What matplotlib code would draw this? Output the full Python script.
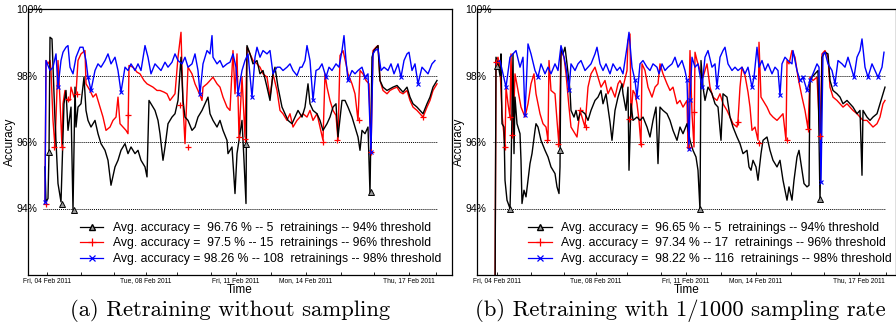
import numpy as np
import matplotlib
matplotlib.use("Agg")
import matplotlib.pyplot as plt
from matplotlib.lines import Line2D

plt.rcParams['font.family'] = ['Liberation Sans', 'DejaVu Sans']

# ---- panel (a): retraining without sampling (x = sample index) ----
t_black_a = [0, 1, 3, 4, 5, 7, 10, 13, 16, 19, 21, 23, 26, 28, 30, 31, 33, 36, 39, 41,
             43, 46, 50, 53, 56, 60, 63, 66, 70, 73, 76, 80, 83, 86, 90, 93, 96, 100, 102, 104,
             106, 110, 113, 115, 118, 120, 123, 127, 130, 133, 136, 138, 140, 143, 147, 150, 153, 157, 160, 163,
             165, 168, 172, 175, 178, 182, 183, 187, 190, 192, 195, 197, 199, 201, 202, 205, 208, 212, 215, 218,
             222, 225, 228, 230, 233, 237, 240, 243, 247, 250, 253, 257, 260, 263, 265, 268, 272, 275, 278, 282,
             285, 288, 291, 293, 297, 300, 303, 307, 310, 313, 315, 317, 320, 323, 325, 327, 329, 333, 335, 338,
             342, 345, 348, 352, 355, 358, 362, 365, 368, 372, 375, 378, 382, 385, 388, 392]
v_black_a = [95.25, 94.2, 94.3, 95.7, 99.15, 99.1, 96.65, 94.75, 94.2, 97.15,
             97.55, 96.35, 97.05, 93.95, 97.65, 96.45, 97.05, 97.15, 97.95, 96.95,
             96.65, 96.45, 96.65, 96.25, 95.95, 95.75, 95.45, 94.7, 95.25, 95.45,
             95.75, 95.95, 95.65, 95.85, 95.65, 95.75, 95.45, 95.25, 94.95, 97.25,
             97.15, 96.95, 96.65, 96.25, 95.45, 95.85, 96.55, 96.75, 96.85, 97.25,
             98.55, 97.25, 96.75, 96.65, 96.35, 96.45, 96.75, 96.95, 97.15, 97.35,
             96.85, 96.65, 96.45, 96.65, 96.35, 96.05, 95.65, 95.85, 94.45, 95.65,
             96.25, 96.65, 95.45, 94.15, 98.9, 98.65, 98.35, 98.45, 98.05, 98.15,
             97.65, 97.25, 98.05, 98.25, 97.65, 97.05, 96.85, 96.65, 96.55, 96.75,
             96.95, 96.75, 97.05, 97.75, 97.15, 96.95, 96.85, 96.65, 96.35, 96.55,
             96.75, 97.05, 97.15, 96.15, 97.25, 97.25, 97.05, 96.75, 96.45, 96.15,
             95.75, 96.35, 96.25, 96.45, 94.45, 98.55, 98.75, 98.9, 97.85, 97.65,
             97.55, 97.6, 97.65, 97.7, 97.6, 97.5, 97.65, 97.35, 97.15, 97.05,
             96.95, 96.85, 97.15, 97.35, 97.65, 97.85]

t_red_a = [0, 1, 3, 5, 6, 8, 10, 12, 13, 15, 17, 18, 20, 22, 25, 26, 29, 31, 33, 36,
           38, 40, 41, 45, 48, 51, 55, 58, 61, 65, 68, 71, 73, 75, 78, 81, 83, 84, 88, 92,
           95, 99, 102, 105, 108, 112, 115, 119, 122, 125, 130, 133, 136, 138, 140, 143, 147, 150, 153, 157,
           158, 162, 165, 168, 172, 175, 178, 182, 185, 188, 190, 192, 194, 197, 200, 202, 205, 208, 212, 215,
           218, 222, 225, 228, 232, 235, 238, 242, 245, 248, 252, 255, 258, 262, 265, 268, 272, 275, 278, 280,
           282, 285, 288, 291, 293, 295, 298, 301, 303, 307, 310, 313, 315, 318, 321, 324, 326, 328, 331, 333,
           335, 338, 342, 345, 348, 352, 355, 358, 362, 365, 368, 372, 375, 378, 382, 385, 388, 392]
v_red_a = [94.2, 98.45, 98.35, 98.45, 98.15, 96.65, 95.85, 97.55, 98.45, 97.25,
           95.85, 97.15, 97.55, 97.25, 97.25, 97.65, 97.35, 97.45, 98.45, 98.65,
           98.7, 98.75, 97.75, 97.55, 97.35, 97.45, 97.05, 96.75, 96.35, 96.45,
           96.65, 96.75, 97.35, 96.55, 96.45, 96.35, 96.25, 98.3, 98.25, 98.1,
           98.05, 97.85, 97.75, 97.7, 97.65, 97.55, 97.55, 97.5, 97.45, 97.25,
           97.45, 98.55, 99.3, 97.15, 95.95, 98.25, 98.05, 97.75, 97.55, 97.25,
           97.65, 97.75, 97.85, 97.95, 97.75, 97.65, 97.35, 97.05, 96.95, 98.75,
           97.45, 98.65, 96.15, 97.95, 96.15, 98.85, 98.65, 98.45, 98.35, 98.25,
           98.05, 97.95, 97.35, 98.05, 97.55, 96.95, 96.85, 96.65, 96.85, 96.45,
           96.65, 96.75, 96.85, 96.75, 96.95, 96.65, 96.85, 96.45, 96.05, 98.05,
           97.65, 97.25, 96.95, 96.8, 96.05, 98.6, 98.75, 98.35, 98.05, 97.75,
           97.45, 96.65, 98.15, 98.05, 97.85, 97.75, 95.7, 98.75, 98.85, 98.9,
           97.85, 97.55, 97.45, 97.55, 97.6, 97.65, 97.5, 97.45, 97.55, 97.25,
           97.05, 96.95, 96.85, 96.75, 97.05, 97.25, 97.55, 97.75]

t_blue_a = [0, 1, 5, 8, 11, 13, 16, 18, 21, 23, 25, 28, 31, 35, 38, 41, 43, 46, 50, 53,
            56, 60, 63, 66, 70, 73, 76, 80, 83, 86, 90, 93, 96, 100, 103, 106, 110, 113, 116, 120,
            123, 127, 130, 133, 137, 140, 143, 147, 150, 153, 155, 158, 162, 165, 167, 168, 172, 175, 178, 182,
            185, 188, 191, 193, 197, 200, 203, 207, 210, 212, 215, 218, 222, 225, 228, 232, 235, 238, 242, 245,
            248, 252, 255, 257, 260, 262, 265, 268, 271, 274, 277, 281, 284, 287, 291, 294, 297, 299, 301, 303,
            307, 310, 313, 317, 320, 323, 326, 328, 330, 333, 336, 339, 343, 346, 349, 353, 356, 359, 362, 364,
            367, 370, 373, 377, 380, 383, 387, 390]
v_blue_a = [94.2, 98.45, 98.15, 98.25, 98.65, 97.65, 98.45, 98.7, 98.85, 98.9, 98.25,
            98.05, 98.55, 98.85, 98.85, 98.45, 97.95, 97.55, 98.15, 98.35, 98.25,
            98.45, 98.65, 98.35, 98.55, 98.15, 97.5, 98.25, 98.15, 98.35, 98.15,
            98.35, 98.15, 98.9, 98.55, 98.05, 98.35, 98.25, 98.15, 98.4, 98.25,
            98.4, 98.65, 98.45, 98.35, 98.55, 98.25, 98.35, 98.65, 98.15, 97.45,
            98.35, 98.75, 98.65, 99.2, 98.55, 98.35, 98.45, 98.25, 98.35, 98.4,
            98.65, 98.25, 97.45, 98.15, 98.45, 98.65, 97.35, 98.55, 98.85, 98.55,
            98.75, 98.65, 98.75, 98.05, 98.25, 98.25, 98.15, 98.25, 98.35, 98.15,
            98.0, 98.25, 98.25, 98.45, 98.9, 98.45, 97.25, 98.15, 98.2, 98.35,
            97.95, 98.25, 98.15, 98.35, 98.25, 98.75, 99.2, 98.45, 97.85, 98.15,
            98.05, 98.15, 98.25, 97.95, 98.05, 95.7, 98.65, 98.75, 98.8, 98.15,
            98.25, 98.15, 98.35, 98.05, 98.35, 97.95, 98.45, 98.65, 98.7, 98.15,
            98.35, 97.75, 98.25, 98.15, 98.05, 98.35, 98.45]

# retraining points (a)
t_retrain_black_a = [4, 17, 29, 201, 326]
v_retrain_black_a = [95.7, 94.15, 93.95, 95.95, 94.5]
t_retrain_red_a = [1, 9, 17, 23, 32, 83, 135, 143, 194, 200, 278, 292, 314, 326, 378]
v_retrain_red_a = [94.15, 95.85, 95.85, 97.3, 97.45, 96.8, 97.1, 95.85, 96.15, 96.1, 96.0, 96.05, 96.65, 95.7, 96.75]

labels_a = ["Avg. accuracy =  96.76 % -- 5  retrainings -- 94% threshold",
            "Avg. accuracy =  97.5 % -- 15  retrainings -- 96% threshold",
            "Avg. accuracy = 98.26 % -- 108  retrainings -- 98% threshold"]

# ---- panel (b): retraining with 1/1000 sampling rate ----
t_black_b = [0, 1, 3, 5, 6, 7, 9, 10, 12, 15, 16, 18, 19, 20, 22, 25, 26, 27, 29, 31,
             33, 35, 37, 40, 41, 43, 46, 50, 53, 56, 60, 62, 64, 65, 66, 68, 70, 72, 75, 76,
             79, 81, 83, 86, 90, 93, 96, 100, 103, 106, 108, 111, 115, 117, 120, 123, 127, 128, 131, 133,
             134, 136, 138, 142, 145, 148, 152, 155, 158, 161, 163, 165, 168, 172, 175, 178, 182, 185, 188, 192,
             195, 198, 201, 203, 205, 206, 208, 210, 213, 217, 220, 223, 226, 228, 232, 235, 238, 242, 245, 248,
             252, 254, 256, 258, 261, 263, 266, 268, 272, 275, 278, 282, 285, 288, 292, 294, 297, 299, 302, 304,
             307, 309, 312, 314, 315, 317, 320, 323, 325, 327, 330, 333, 335, 338, 342, 345, 348, 352, 355, 358,
             362, 365, 367, 368, 372, 375, 378, 382, 385, 387, 390]
v_black_b = [91.0, 98.55, 98.35, 98.0, 98.65, 96.55, 96.45, 94.85, 94.25, 94.0,
             95.15, 98.65, 95.65, 97.35, 96.55, 96.25, 95.45, 94.15, 94.55, 94.35,
             94.85, 95.35, 95.65, 96.35, 96.55, 96.45, 96.05, 95.75, 95.55, 95.25,
             95.05, 94.65, 94.45, 95.25, 98.85, 98.65, 98.85, 98.35, 97.55, 96.95,
             96.75, 96.95, 96.65, 96.95, 96.85, 96.65, 96.95, 97.25, 97.35, 97.55,
             97.15, 97.45, 96.6, 96.05, 96.95, 97.35, 97.75, 97.45, 96.95, 97.65,
             95.15, 97.15, 96.65, 96.75, 96.65, 96.75, 96.45, 96.15, 96.65, 97.05,
             95.35, 97.05, 96.95, 96.85, 96.65, 96.35, 96.05, 96.45, 96.25, 96.55,
             96.05, 95.75, 95.55, 95.15, 93.95, 98.45, 97.65, 97.25, 97.65, 97.45,
             97.15, 97.05, 96.05, 97.45, 97.35, 96.75, 96.45, 96.15, 95.95, 95.65,
             95.75, 95.25, 95.15, 95.45, 95.25, 94.85, 95.65, 96.05, 96.15, 95.75,
             95.45, 95.25, 95.45, 94.85, 94.25, 94.65, 94.25, 94.85, 95.55, 95.75,
             95.15, 94.75, 94.65, 94.7, 97.85, 97.95, 98.05, 98.15, 94.2, 98.55,
             98.7, 98.65, 97.85, 97.55, 97.45, 97.35, 97.15, 97.25, 97.15, 97.05,
             96.85, 96.95, 95.0, 96.95, 96.75, 96.65, 96.75, 96.85, 97.15, 97.35, 97.65]

t_red_b = [0, 1, 3, 5, 7, 10, 11, 13, 15, 16, 18, 20, 23, 26, 30, 33, 36, 39, 41, 45,
           48, 51, 53, 54, 56, 60, 62, 64, 66, 69, 71, 74, 76, 80, 82, 85, 87, 90, 93, 96,
           100, 103, 106, 110, 113, 116, 120, 123, 125, 128, 132, 133, 135, 136, 138, 140, 142, 144, 146, 147,
           150, 153, 157, 160, 163, 165, 168, 172, 175, 178, 182, 185, 188, 192, 193, 195, 197, 199, 200, 202,
           205, 208, 212, 215, 218, 222, 225, 228, 232, 235, 238, 242, 243, 245, 247, 250, 253, 255, 257, 260,
           263, 264, 266, 268, 272, 275, 278, 282, 285, 288, 291, 292, 294, 297, 300, 303, 307, 310, 313, 315,
           318, 322, 325, 327, 330, 333, 335, 338, 342, 345, 348, 352, 355, 358, 362, 365, 368, 372, 375, 378,
           382, 385, 388, 390]
v_red_b = [91.0, 98.45, 98.55, 98.25, 96.85, 95.85, 97.65, 97.15, 96.75, 98.65,
           96.2, 98.05, 97.55, 97.05, 96.75, 97.15, 97.75, 98.05, 97.45, 96.85,
           96.55, 96.45, 96.05, 98.45, 97.55, 97.45, 96.65, 95.9, 98.75, 98.55,
           98.05, 97.05, 96.45, 96.25, 96.15, 96.95, 96.75, 96.45, 97.65, 98.05,
           98.25, 97.95, 97.65, 97.85, 97.45, 97.65, 97.35, 97.75, 97.85, 97.65,
           98.15, 99.05, 99.25, 96.75, 97.55, 97.45, 97.15, 96.65, 95.9, 98.35,
           98.15, 97.65, 97.35, 97.65, 97.75, 98.35, 98.05, 97.75, 97.55, 97.65,
           97.15, 97.25, 97.05, 97.25, 95.8, 98.75, 96.85, 95.85, 98.7, 98.45,
           98.15, 97.95, 98.35, 97.65, 97.35, 97.25, 97.45, 97.15, 96.95, 96.75,
           96.55, 96.45, 96.65, 97.65, 98.25, 98.0, 97.5, 97.05, 96.35, 96.45,
           96.05, 99.0, 97.35, 97.25, 97.05, 96.85, 96.75, 96.65, 96.75, 96.85,
           96.05, 98.45, 98.35, 98.75, 98.55, 97.95, 97.35, 96.95, 96.4, 97.95,
           97.85, 97.95, 96.15, 98.65, 98.75, 98.55, 97.65, 97.35, 97.25, 97.15,
           97.05, 97.15, 97.05, 96.95, 96.85, 96.75, 96.65, 96.65, 96.55, 96.45,
           96.55, 96.75, 97.15, 97.25]

t_blue_b = [1, 5, 8, 11, 15, 18, 21, 25, 28, 30, 33, 36, 40, 43, 46, 50, 53, 56, 60, 63,
            66, 69, 71, 74, 76, 80, 83, 86, 90, 93, 96, 100, 102, 105, 108, 111, 115, 118, 122, 125,
            128, 132, 134, 137, 140, 142, 145, 148, 152, 155, 158, 162, 164, 167, 170, 173, 177, 180, 183, 187,
            190, 192, 194, 195, 197, 200, 203, 207, 210, 213, 217, 220, 222, 225, 228, 230, 233, 237, 240, 243,
            247, 250, 253, 257, 259, 262, 264, 267, 270, 273, 277, 280, 283, 285, 287, 290, 293, 297, 298, 302,
            305, 308, 312, 315, 318, 322, 324, 326, 328, 330, 333, 337, 340, 343, 347, 350, 353, 357, 359, 362,
            365, 367, 370, 373, 377, 380, 383, 387, 389]
v_blue_b = [98.35, 98.45, 98.05, 97.65, 98.55, 98.65, 98.75, 98.25, 98.55, 96.8,
            98.95, 98.65, 98.15, 97.95, 98.35, 98.05, 98.25, 98.05, 98.35, 98.15,
            98.9, 98.55, 98.25, 97.55, 98.35, 98.15, 98.35, 98.45, 98.15, 98.25,
            98.35, 98.65, 98.85, 98.35, 98.15, 98.35, 98.05, 98.35, 98.15, 98.25,
            98.05, 98.85, 99.3, 98.25, 97.85, 97.35, 98.35, 98.45, 98.25, 98.15,
            98.35, 98.25, 98.05, 98.35, 98.15, 98.25, 98.35, 98.55, 98.25, 98.45,
            98.15, 97.85, 95.8, 97.25, 98.55, 98.25, 98.35, 97.65, 98.55, 98.75,
            98.25, 98.35, 97.65, 98.55, 98.75, 98.85, 98.35, 98.15, 98.25, 98.15,
            98.25, 98.05, 98.25, 97.65, 97.95, 98.85, 98.25, 98.45, 98.15, 98.35,
            98.05, 98.25, 98.15, 97.4, 98.35, 98.55, 98.45, 98.35, 98.75, 98.15,
            97.85, 97.95, 97.55, 97.85, 98.05, 98.35, 98.25, 94.8, 98.65, 98.7,
            98.35, 98.15, 97.75, 98.45, 98.35, 98.25, 98.55, 98.15, 97.95, 98.55,
            98.75, 99.1, 98.25, 97.95, 98.35, 98.15, 97.95, 98.25, 98.7]

# retraining points (b)
t_retrain_black_b = [2, 15, 65, 205, 325]
v_retrain_black_b = [98.3, 93.98, 95.75, 93.98, 94.3]
t_retrain_red_b = [1, 10, 15, 17, 52, 63, 85, 91, 134, 146, 194, 199, 243, 264, 292, 313, 325]
v_retrain_red_b = [98.4, 95.86, 96.76, 96.2, 96.06, 95.94, 96.95, 96.45, 96.7, 95.94,
                   95.86, 96.9, 96.6, 95.96, 96.06, 96.4, 96.18]

labels_b = ["Avg. accuracy =  96.65 % -- 5  retrainings -- 94% threshold",
            "Avg. accuracy =  97.34 % -- 17  retrainings -- 96% threshold",
            "Avg. accuracy =  98.22 % -- 116  retrainings -- 98% threshold"]

thresholds = [94, 96, 98]
ytick_vals = [94, 96, 98, 100]
date_labels = ["Fri, 04 Feb 2011", "Tue, 08 Feb 2011", "Fri, 11 Feb 2011",
               "Mon, 14 Feb 2011", "Thu, 17 Feb 2011"]
date_pos = [2, 101, 191, 261, 364]
minor_pos = [36, 69, 132, 166, 226, 296, 329, 391]


def draw_panel(ax, tk, vk, tr, vr, tb, vb, rk_t, rk_v, rr_t, rr_v, labels, xlim):
    tb = np.array(tb)
    vb = np.array(vb)
    ax.hlines(thresholds, -2, tk[-1], colors='black', linestyles=(0, (1, 1)),
              lw=0.7, zorder=1)
    ax.plot(tr, vr, color='red', lw=1.0, zorder=2)
    ax.plot(tk, vk, color='black', lw=1.0, zorder=3)
    ax.plot(tb, vb, color='blue', lw=1.0, zorder=4)
    ax.plot(rk_t, rk_v, ls='none', marker='^', ms=4, mfc='#999999', mec='black',
            mew=0.7, zorder=5)
    ax.plot(rr_t, rr_v, ls='none', marker='+', ms=5, color='red', mew=0.9, zorder=5)
    low = vb < 98
    ax.plot(tb[low], vb[low], ls='none', marker='x', ms=3, color='blue', mew=0.8, zorder=5)

    ax.set_xlim(*xlim)
    ax.set_ylim(92, 100)
    ax.set_yticks(ytick_vals)
    ax.set_yticklabels([f"{v}%" for v in ytick_vals], ha='left')
    ax.tick_params(axis='y', length=0, pad=8.6, labelsize=7.5)
    ax.set_xticks(date_pos)
    ax.set_xticklabels(date_labels)
    ax.set_xticks(minor_pos, minor=True)
    ax.tick_params(axis='x', which='both', direction='in', length=2.2, width=0.6,
                   pad=1.2, labelsize=4.8)
    ax.set_xlabel("Time", fontsize=8.5, labelpad=0)
    ax.set_ylabel("Accuracy", fontsize=8.5)
    ax.yaxis.set_label_coords(-12 / 424, 0.5)
    for s in ax.spines.values():
        s.set_linewidth(0.9)

    handles = [Line2D([], [], color='black', lw=0.9, marker='^', ms=4, mfc='#999999', mec='black'),
               Line2D([], [], color='red', lw=0.9, marker='+', ms=6, mew=0.9),
               Line2D([], [], color='blue', lw=0.9, marker='x', ms=4, mew=0.9)]
    ax.legend(handles, labels, loc='upper left', bbox_to_anchor=(52 / 424, 0.20),
              frameon=False, fontsize=8.8, handlelength=1.9, handletextpad=0.8,
              labelspacing=0.3, borderpad=0, borderaxespad=0)


fig = plt.figure(figsize=(8.96, 3.30), dpi=100)
ax_a = fig.add_axes([28 / 896, 55 / 330, 424 / 896, 266 / 330])
ax_b = fig.add_axes([477 / 896, 55 / 330, 418.5 / 896, 266 / 330])

draw_panel(ax_a, t_black_a, v_black_a, t_red_a, v_red_a, t_blue_a, v_blue_a,
           t_retrain_black_a, v_retrain_black_a, t_retrain_red_a, v_retrain_red_a,
           labels_a, (-17, 407))
draw_panel(ax_b, t_black_b, v_black_b, t_red_b, v_red_b, t_blue_b, v_blue_b,
           t_retrain_black_b, v_retrain_black_b, t_retrain_red_b, v_retrain_red_b,
           labels_b, (-18, 400.5))

fig.text(230 / 896, 1 - 311 / 330, "(a) Retraining without sampling",
         ha='center', va='center', fontfamily='cmr10', fontsize=16.3)
fig.text(680 / 896, 1 - 311 / 330, "(b) Retraining with 1/1000 sampling rate",
         ha='center', va='center', fontfamily='cmr10', fontsize=16.3)

fig.savefig("out.png", dpi=100)
